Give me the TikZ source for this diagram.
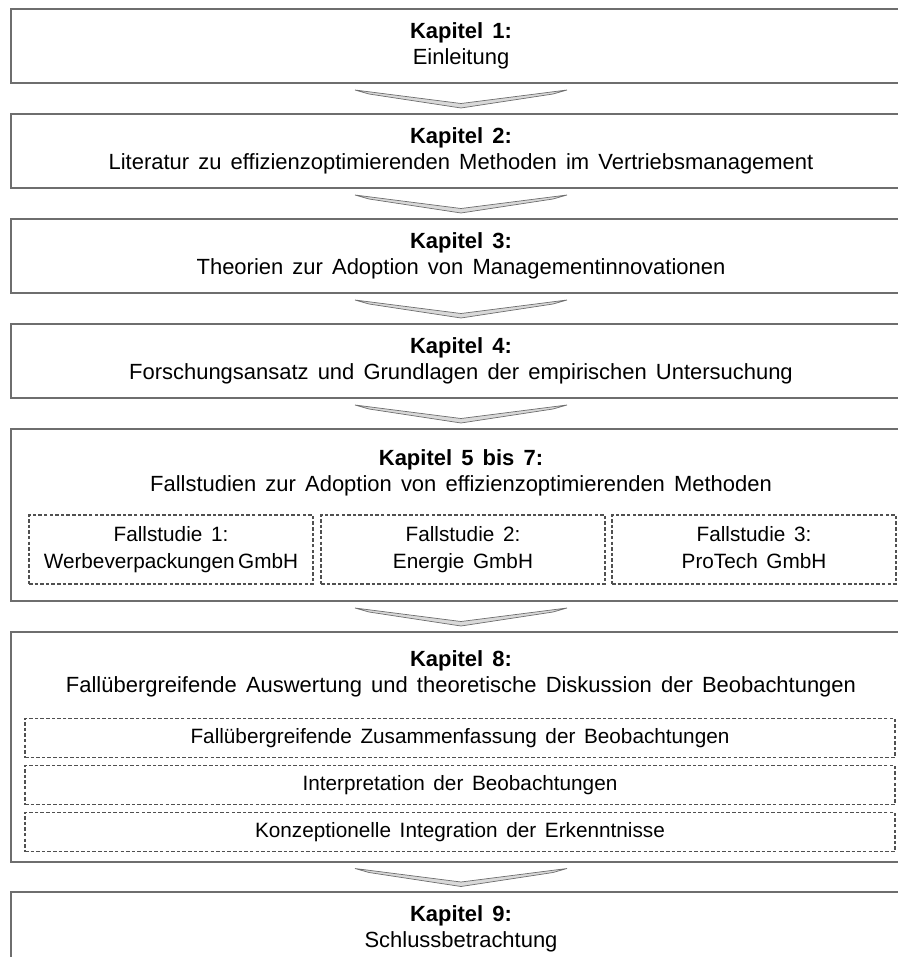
\documentclass[tikz,border=0pt]{standalone}
\usepackage{fontspec}
\setmainfont{Liberation Sans}[WordSpace=1.5]
\usetikzlibrary{positioning,calc}

\definecolor{boxgray}{HTML}{6E6E6E}
\definecolor{dashgray}{HTML}{505050}

\tikzstyle{chapter} = [rectangle, draw=boxgray, line width=0.8pt, minimum width=18cm, minimum height=1.48cm, align=center, outer sep=0pt]
\tikzstyle{part} = [rectangle, draw=dashgray, line width=0.6pt, dash pattern=on 2pt off 1.2pt, align=center, outer sep=0pt, font=\fontsize{11.8}{15.4}\selectfont]
\tikzstyle{chev} = [draw=boxgray, fill=gray!30, line width=0.4pt]

\begin{document}
\begin{tikzpicture}[node distance=0.62cm, font=\fontsize{12.5}{14.8}\selectfont]
\useasboundingbox (0,0) rectangle (17.94,-19.14);

% Kapitel boxes
\node (k1) [chapter] at (9.22,-0.92) {\textbf{Kapitel 1:}\\Einleitung};
\node (k2) [chapter, below=of k1] {\textbf{Kapitel 2:}\\Literatur zu effizienzoptimierenden Methoden im Vertriebsmanagement};
\node (k3) [chapter, below=of k2] {\textbf{Kapitel 3:}\\Theorien zur Adoption von Managementinnovationen};
\node (k4) [chapter, below=of k3] {\textbf{Kapitel 4:}\\Forschungsansatz und Grundlagen der empirischen Untersuchung};
\node (k5) [chapter, below=of k4, minimum height=3.44cm] {};
\node (k6) [chapter, below=of k5, minimum height=4.6cm] {};
\node (k7) [chapter, below=0.6cm of k6] {\textbf{Kapitel 9:}\\Schlussbetrachtung};

% Fallstudien
\node (t5) [align=center] at ([yshift=-0.88cm]k5.north) {\textbf{Kapitel 5 bis 7:}\\Fallstudien zur Adoption von effizienzoptimierenden Methoden};
\node (f2) [part, minimum width=5.68cm, minimum height=1.38cm] at ([xshift=0.04cm, yshift=-0.69cm]k5.center) {Fallstudie 2:\strut\\Energie GmbH\strut};
\node (f1) [part, minimum width=5.68cm, minimum height=1.38cm, left=0.16cm of f2] {Fallstudie 1:\strut\\Werbeverpackungen\,GmbH\strut};
\node (f3) [part, minimum width=5.68cm, minimum height=1.38cm, right=0.14cm of f2] {Fallstudie 3:\strut\\ProTech GmbH\strut};

% Auswertung
\node (t6) [align=center] at ([yshift=-0.84cm]k6.north) {\textbf{Kapitel 8:}\\Fallübergreifende Auswertung und theoretische Diskussion der Beobachtungen};
\node (s1) [part, minimum width=17.4cm, minimum height=0.78cm] at ([xshift=-0.02cm, yshift=0.18cm]k6.center) {Fallübergreifende Zusammenfassung der Beobachtungen};
\node (s2) [part, minimum width=17.4cm, minimum height=0.78cm, below=0.16cm of s1] {Interpretation der Beobachtungen};
\node (s3) [part, minimum width=17.4cm, minimum height=0.78cm, below=0.16cm of s2] {Konzeptionelle Integration der Erkenntnisse};

% chevrons between boxes
\foreach \a/\b in {k1/k2, k2/k3, k3/k4, k4/k5, k5/k6, k6/k7}{
  \begin{scope}[shift={($(\a.south)!0.5!(\b.north)$)}]
    \draw [chev] (-2.12,0.17) -- (0,-0.10) -- (2.12,0.17) -- (1.84,0.09) -- (0,-0.19) -- (-1.84,0.09) -- cycle;
  \end{scope}
}
\end{tikzpicture}
\end{document}
